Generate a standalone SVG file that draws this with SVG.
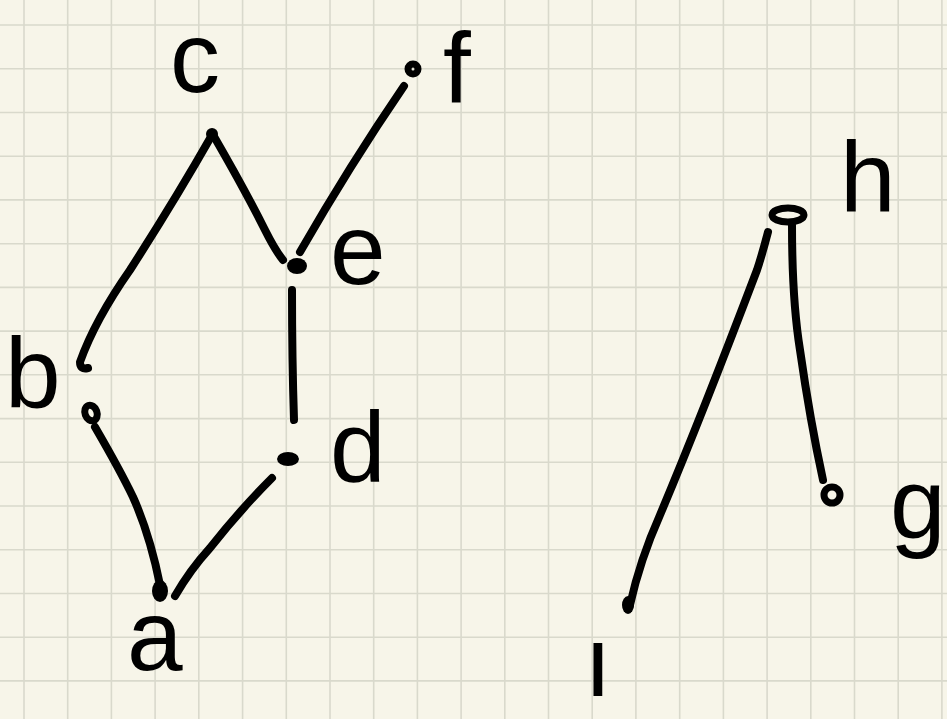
<svg xmlns="http://www.w3.org/2000/svg" width="947" height="719" viewBox="0 0 947 719">
<style>
.bg{fill:#f7f5e9}
.grid{stroke:#d9d9cc;stroke-width:1.6;fill:none}
.edge{stroke:#000;stroke-width:8;stroke-linecap:round;stroke-linejoin:round;fill:none}
.dot{fill:#000}
.ring{fill:none;stroke:#000;stroke-width:7}
.lbl{font-family:"Liberation Sans","DejaVu Sans",sans-serif;font-size:100px;fill:#000}
</style>
<rect class="bg" x="0" y="0" width="947" height="719"/>
<path class="grid" d="M24,0V719M67.7,0V719M111.4,0V719M155.1,0V719M198.8,0V719M242.6,0V719M286.3,0V719M330,0V719M373.7,0V719M417.4,0V719M461.1,0V719M504.8,0V719M548.5,0V719M592.2,0V719M635.9,0V719M679.7,0V719M723.4,0V719M767.1,0V719M810.8,0V719M854.5,0V719M898.2,0V719M941.9,0V719M0,25H947M0,68.7H947M0,112.5H947M0,156.2H947M0,199.9H947M0,243.7H947M0,287.4H947M0,331.1H947M0,374.8H947M0,418.6H947M0,462.3H947M0,506H947M0,549.8H947M0,593.5H947M0,637.2H947M0,680.9H947"/>
<g id="edges">
<path class="edge" d="M212,135 Q175,200 130,270 Q95,320 80,362 Q80,370 88,368"/>
<path class="edge" d="M212,133 Q245,190 265,230 Q275,250 283,260"/>
<path class="edge" d="M404,86 Q350,165 300,252"/>
<path class="edge" d="M292,290 Q292,360 294,420"/>
<path class="edge" d="M95,427 Q120,470 133,497 Q150,535 160,585"/>
<path class="edge" d="M175,596 Q190,570 210,548 Q240,510 272,478"/>
<path class="edge" d="M768,232 Q762,255 757,270 Q700,420 660,515 Q640,560 630,605"/>
<path class="edge" d="M792,225 Q792,300 800,350 Q810,420 823,480"/>
</g>
<g id="node-a"><ellipse class="dot" cx="160" cy="591" rx="8" ry="11"/><text class="lbl" x="127" y="670" font-size="75">a</text></g>
<g id="node-b"><ellipse class="ring" cx="91" cy="413" rx="6" ry="8" transform="rotate(-20 91 413)"/><text class="lbl" x="5" y="408">b</text></g>
<g id="node-c"><circle class="dot" cx="212" cy="134" r="6"/><text class="lbl" x="170" y="92">c</text></g>
<g id="node-d"><ellipse class="dot" cx="288" cy="459" rx="11" ry="7"/><text class="lbl" x="330" y="482">d</text></g>
<g id="node-e"><ellipse class="dot" cx="297" cy="266" rx="10" ry="8"/><text class="lbl" x="330" y="284">e</text></g>
<g id="node-f"><circle class="ring" cx="413" cy="69" r="5"/><text class="lbl" x="443" y="103" font-size="120">f</text></g>
<g id="node-g"><circle class="ring" cx="832" cy="495" r="8"/><text class="lbl" x="890" y="538" font-size="100">g</text></g>
<g id="node-h"><ellipse class="ring" cx="788" cy="215" rx="16" ry="7"/><text class="lbl" x="840" y="212">h</text></g>
<g id="node-i"><ellipse class="dot" cx="628" cy="605" rx="6" ry="9"/><text class="lbl" x="584" y="696" font-size="50">ı</text></g>
</svg>
